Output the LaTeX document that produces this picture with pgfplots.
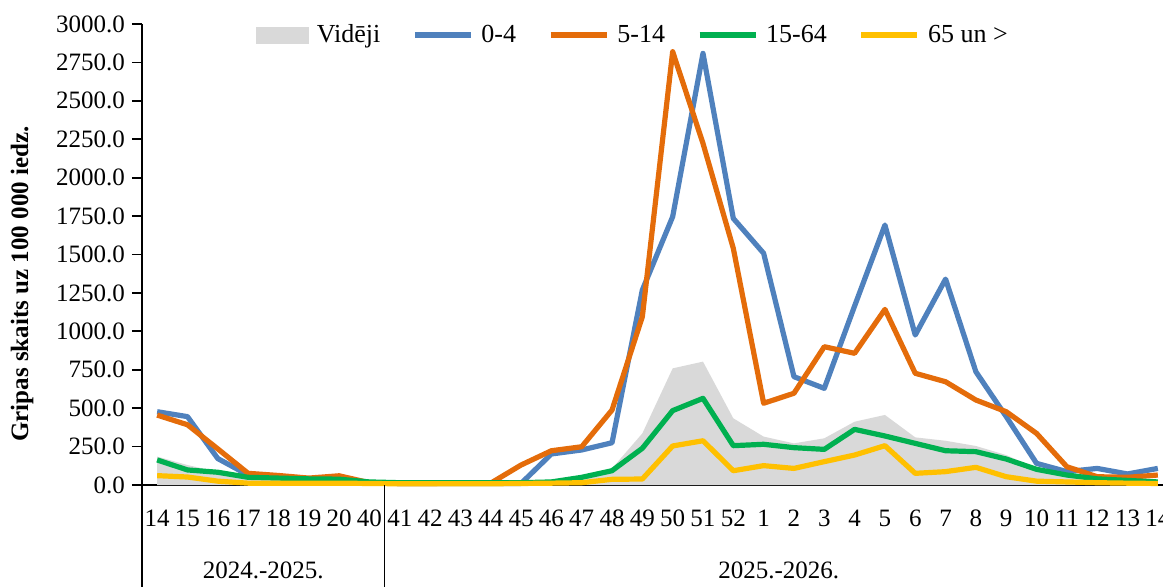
\documentclass[border=0pt]{standalone}
\usepackage{fontspec}
\setmainfont{Liberation Serif}
\usepackage{pgfplots}
\usepackage{pgfplotstable}
\pgfplotsset{compat=1.18}
\definecolor{cblue}{HTML}{4F81BD}
\definecolor{corange}{HTML}{E46C0A}
\definecolor{cgreen}{HTML}{00B050}
\definecolor{cyellow}{HTML}{FFC000}
\definecolor{cgray}{HTML}{D9D9D9}
\pgfplotsset{
  lineleg/.style={legend image code/.code={\draw[##1] (0pt,0pt) -- (28pt,0pt);}},
  arealeg/.style={legend image code/.code={\fill[cgray] (0pt,-4.25pt) rectangle (26.5pt,4.25pt);}},
}
\pgfplotstableread{
x avg a b c d
0 185 477 455 163 61
1 130 445 392 98 52
2 85 172 235 83 25
3 45 65 76 50 12
4 38 50 62 45 12
5 35 35 45 40 12
6 32 30 60 38 12
7 15 15 15 20 10
8 12 10 10 15 8
9 12 10 10 15 8
10 12 10 12 15 8
11 12 10 12 15 8
12 15 10 130 15 10
13 25 202 223 20 12
14 55 228 249 50 15
15 108 275 488 93 37
16 336 1269 1095 239 39
17 759 1746 2820 484 254
18 803 2809 2223 564 288
19 434 1735 1540 256 93
20 315 1508 532 265 126
21 271 705 597 243 108
22 304 629 900 232 152
23 412 1165 857 362 195
24 456 1692 1143 319 256
25 310 976 727 271 76
26 288 1340 672 223 87
27 254 737 553 217 115
28 195 445 477 169 54
29 108 141 336 102 25
30 60 87 119 65 20
31 45 108 54 40 15
32 35 72 50 30 12
33 25 108 65 20 10
}\data
\begin{document}
\begin{tikzpicture}
\useasboundingbox (0,0) rectangle (581.5pt,293pt);
\begin{axis}[
  at={(71pt,50.5pt)}, anchor=south west,
  scale only axis, width=515.5pt, height=230.5pt,
  xmin=-0.5, xmax=33.5, ymin=0, ymax=3000,
  axis x line*=bottom, axis y line*=left,
  axis line style={line width=0.9pt, black},
  ytick={0,250,...,3000},
  tick align=outside, major tick length=5pt,
  y tick style={line width=0.9pt, black},
  x tick style={draw=none},
  xtick={0,...,33},
  xticklabels={14,15,16,17,18,19,20,40,41,42,43,44,45,46,47,48,49,50,51,52,1,2,3,4,5,6,7,8,9,10,11,12,13,14},
  /pgf/number format/assume math mode=true,
  yticklabel style={/pgf/number format/fixed, /pgf/number format/fixed zerofill, /pgf/number format/precision=1, /pgf/number format/1000 sep={}},
  tick label style={font=\fontsize{12.5}{14}\selectfont},
  xticklabel style={yshift=-4pt},
  clip=false,
  legend columns=5,
  legend style={at={(0.477,0.976)}, anchor=center, draw=none, fill=none,
    font=\fontsize{13}{15}\selectfont,
    /tikz/every odd column/.append style={column sep=2pt},
    /tikz/every even column/.append style={column sep=14pt}},
  line join=round,
]
\addplot[fill=cgray, draw=none, arealeg] table[x=x,y=avg]{\data} \closedcycle;
\addlegendentry{Vidēji}
\addplot[cblue, line width=2.6pt, lineleg] table[x=x,y=a]{\data};
\addlegendentry{0-4}
\addplot[corange, line width=2.6pt, lineleg] table[x=x,y=b]{\data};
\addlegendentry{5-14}
\addplot[cgreen, line width=2.6pt, lineleg] table[x=x,y=c]{\data};
\addlegendentry{15-64}
\addplot[cyellow, line width=2.6pt, lineleg] table[x=x,y=d]{\data};
\addlegendentry{65 un >}
\draw[line width=0.9pt] (axis cs:-0.5,0) -- ([yshift=-55pt]axis cs:-0.5,0);
\draw[line width=0.9pt] (axis cs:7.5,0) -- ([yshift=-55pt]axis cs:7.5,0);
\draw[line width=0.9pt] (axis cs:33.5,0) -- ([yshift=-55pt]axis cs:33.5,0);
\node[font=\fontsize{12.5}{14}\selectfont] at ([yshift=-42.5pt]axis cs:3.5,0) {2024.-2025.};
\node[font=\fontsize{12.5}{14}\selectfont] at ([yshift=-42.5pt]axis cs:20.5,0) {2025.-2026.};
\end{axis}
\node[rotate=90, font=\bfseries\fontsize{12.5}{14}\selectfont] at (11pt,151pt) {Gripas skaits uz 100 000 iedz.};
\end{tikzpicture}
\end{document}
